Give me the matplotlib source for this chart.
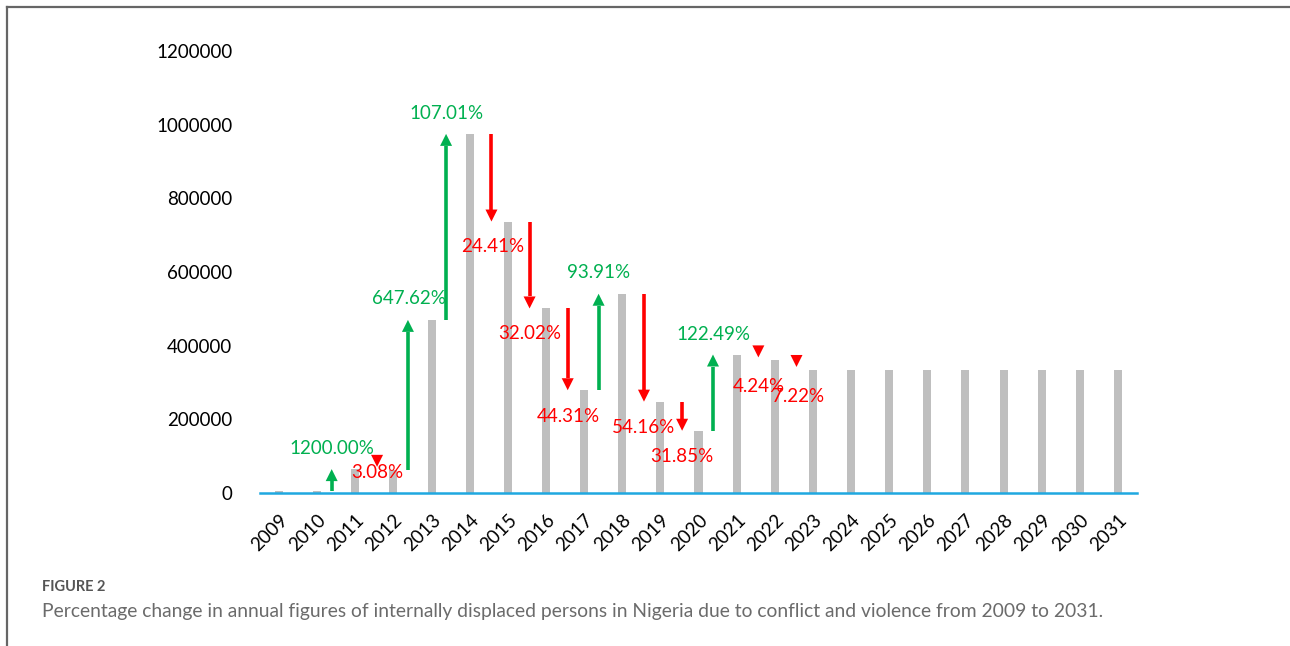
import matplotlib
matplotlib.use('Agg')
import matplotlib.pyplot as plt
from matplotlib.lines import Line2D
from matplotlib.patches import Polygon

# ---------------- data ----------------
years = [str(y) for y in range(2009, 2032)]
idps = [5000, 5000, 64870, 62870, 470000, 975000, 737000, 501000, 279000,
        541000, 248000, 169000, 376000, 360000, 334000,
        334000, 334000, 334000, 334000, 334000, 334000, 334000, 334000]
yticks = [0, 200000, 400000, 600000, 800000, 1000000, 1200000]

change_years = [2011, 2012, 2013, 2014, 2015, 2016, 2017, 2018, 2019, 2020, 2021, 2022, 2023]
change_text = ['1200.00%', '3.08%', '647.62%', '107.01%', '24.41%', '32.02%', '44.31%',
               '93.91%', '54.16%', '31.85%', '122.49%', '4.24%', '7.22%']
# label anchor positions (x in category units, y in data units)
label_x = [1.38, 2.58, 3.41, 4.38, 5.60, 6.58, 7.58, 8.39, 9.57, 10.57, 11.38, 12.59, 13.61]
label_y = [120000, 55000, 529000, 1031000, 668000, 434000, 209000, 598000, 179000, 98000, 431000, 290000, 263000]

GREEN = '#00B050'
RED = '#FF0000'
BAR = '#BFBFBF'
AXIS = '#1FA8E0'
FONT = 'Lato'

W, H = 1290, 646
fig = plt.figure(figsize=(W / 100, H / 100), dpi=100)

# frame lines of the figure panel
fig.add_artist(Line2D([7 / W, 7 / W], [0, 1 - 7 / H], transform=fig.transFigure,
                      color='#666666', lw=1.6))
fig.add_artist(Line2D([7 / W, 1289 / W], [1 - 7 / H, 1 - 7 / H], transform=fig.transFigure,
                      color='#666666', lw=1.6))

ax_l, ax_r, ax_b, ax_t = 260, 1137, 493, 51
ax = fig.add_axes([ax_l / W, 1 - ax_b / H, (ax_r - ax_l) / W, (ax_b - ax_t) / H])
x = list(range(len(years)))
ax.bar(x, idps, width=0.21, color=BAR, zorder=2)
ax.set_xlim(-0.5, len(years) - 0.5)
ax.set_ylim(0, 1200000)

for s in ['top', 'right', 'left']:
    ax.spines[s].set_visible(False)
ax.spines['bottom'].set_color(AXIS)
ax.spines['bottom'].set_linewidth(1.8)
ax.spines['bottom'].set_zorder(5)

ax.set_yticks(yticks)
ax.set_yticklabels([str(v) for v in yticks], fontsize=13.5, family=FONT, color='#000000')
ax.tick_params(axis='y', length=0, pad=20)
ax.set_xticks(x)
ax.set_xticklabels(years, rotation=45, ha='right', rotation_mode='anchor',
                   fontsize=13.5, family=FONT, color='#000000')
ax.tick_params(axis='x', length=0, pad=13)

# pixel -> data scales
px_x = (len(years)) / (ax_r - ax_l)
px_y = 1200000 / (ax_b - ax_t)
head_len = 12 * px_y
head_w = 6 * px_x

for yr, txt, lx, ly in zip(change_years, change_text, label_x, label_y):
    i = yr - 2009
    start, end = idps[i - 1], idps[i]
    up = end > start
    col = GREEN if up else RED
    xa = i - 0.62 if up else i - 0.43
    d = 1 if up else -1
    if abs(end - start) > head_len * 1.3:
        base = end - d * head_len
        ax.plot([xa, xa], [start, base], color=col, lw=2.6, solid_capstyle='butt', zorder=4)
        tip = end
    else:
        tip = end + 3 * px_y
        base = tip - d * head_len
    ax.add_patch(Polygon([[xa - head_w, base], [xa + head_w, base], [xa, tip]],
                         closed=True, color=col, lw=0, zorder=4))
    ax.text(lx, ly, txt, color=col, fontsize=13.5, family=FONT,
            ha='center', va='center', zorder=6)

fig.text(42 / W, 1 - 587 / H, 'FIGURE 2', fontsize=10.5, family=FONT, color='#555555',
         ha='left', va='center', fontweight='bold')
fig.text(42 / W, 1 - 612 / H,
         'Percentage change in annual figures of internally displaced persons in Nigeria due to conflict and violence from 2009 to 2031.',
         fontsize=13.9, family=FONT, color='#6b6b6b', ha='left', va='center')

fig.savefig('out.png', dpi=100)
